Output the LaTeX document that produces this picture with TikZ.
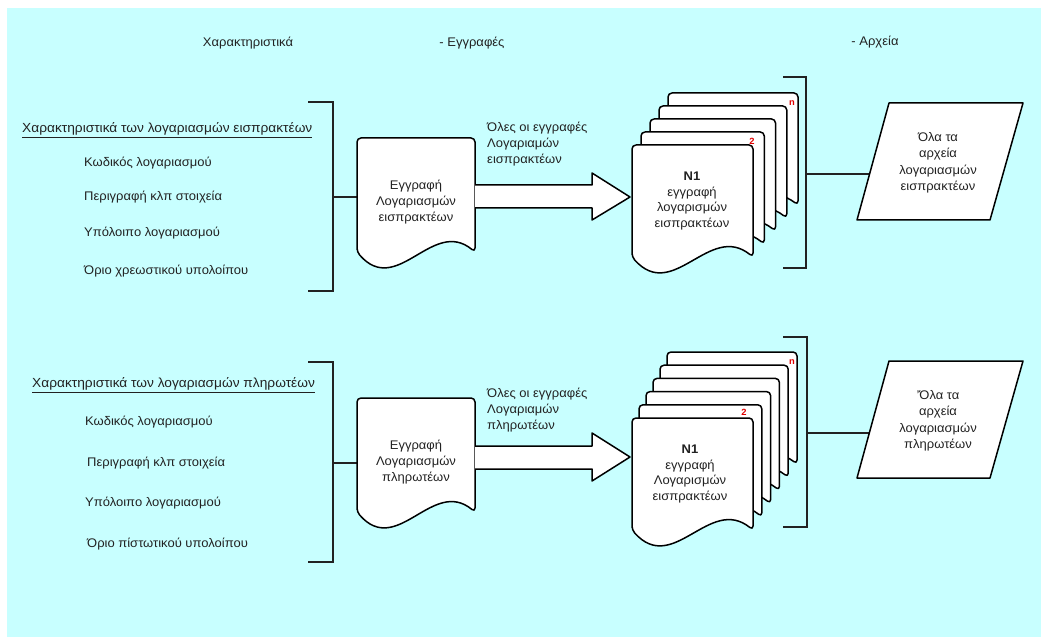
\documentclass[tikz,border=0pt]{standalone}
\usepackage{fontspec}
\setmainfont{Liberation Sans}[FakeStretch=1.04]
\definecolor{bg}{HTML}{C8FFFF}
\definecolor{txt}{HTML}{222222}
\definecolor{redlbl}{HTML}{E00000}
\tikzset{
  shapeline/.style={draw=black, line width=1.5pt, line join=round},
  bracket/.style={draw=txt, line width=1.6pt},
  lbl/.style={text=txt, inner sep=0pt, font=\fontsize{12.5}{15.8}\selectfont},
  item/.style={lbl, anchor=west},
  ctext/.style={lbl, align=center},
  ltext/.style={lbl, align=left, anchor=west},
  redmark/.style={text=redlbl, inner sep=0pt, font=\fontsize{9}{9}\selectfont\bfseries},
  pics/docpage/.style n args={2}{code={
    \draw[shapeline, fill=white, rounded corners=4pt]
      (0,{#2}) -- (0,0) -- ({#1},0) -- ({#1},{#2})
      .. controls ({0.64*(#1)},{(#2)-35}) and ({0.34*(#1)},{(#2)+46}) .. (0,{#2}) -- cycle;
  }}
}
\begin{document}
\begin{tikzpicture}[x=1pt,y=-1pt]
\useasboundingbox (0,0) rectangle (1044,639);
\fill[bg] (7,8) rectangle (1041,637);

% headers
\node[lbl] (h1) at (248,43) {Χαρακτηριστικά};
\node[lbl] (h2) at (472,43) {- Εγγραφές};
\node[lbl] (h3) at (875,42) {- Αρχεία};

% ---------- group 1 ----------
\node[item, font=\fontsize{13.2}{15.8}\selectfont] (t1) at (22,130) {\underline{Χαρακτηριστικά των λογαριασμών εισπρακτέων}};
\node[item] (a1) at (84,163) {Κωδικός λογαριασμού};
\node[item] (a2) at (84,197) {Περιγραφή κλπ στοιχεία};
\node[item] (a3) at (84,233) {Υπόλοιπο λογαριασμού};
\node[item] (a4) at (84,271) {Όριο χρεωστικού υπολοίπου};

\draw[bracket] (308,102) -- (333,102) -- (333,291) -- (308,291);
\coordinate (b1m) at (333,197);
\coordinate (d1w) at (358,197);
\draw[bracket] (b1m) -- (d1w);

\pic at (357,138) {docpage={118}{114}};
\node[ctext] (d1) at (416,202) {Εγγραφή\\Λογαριασμών\\εισπρακτέων};

\draw[shapeline, fill=white] (475,185) -- (592,185) -- (592,173) -- (630,197) -- (592,220) -- (592,208) -- (475,208);
\node[ltext] (l1) at (487,144) {Όλες οι εγγραφές\\Λογαριαμών\\εισπρακτέων};

\foreach \i in {4,3,2,1,0}{
  \pic at ({632+9*\i},{145-13*\i}) {docpage={121+2.25*\i}{112}};
}
\node[ctext] (s1) at (692,201) {\textbf{N1}\\εγγραφή\\λογαρισμών\\εισπρακτέων};
\node[redmark] (n1) at (792,103) {n};
\node[redmark] (two1) at (752,141) {2};

\draw[bracket] (783,77) -- (806,77) -- (806,268) -- (783,268);
\coordinate (b2m) at (806,174);
\coordinate (p1w) at (869,174);
\draw[bracket] (b2m) -- (p1w);

\draw[shapeline, fill=white] (889,103) -- (1023,103) -- (990,220) -- (857,220) -- cycle;
\node[ctext, font=\fontsize{12.5}{16.5}\selectfont] (p1) at (938,163) {Όλα τα\\αρχεία\\λογαριασμών\\εισπρακτέων};

% ---------- group 2 ----------
\node[item, font=\fontsize{13.2}{15.8}\selectfont] (t2) at (32,385) {\underline{Χαρακτηριστικά των λογαριασμών πληρωτέων}};
\node[item] (c1) at (85,422) {Κωδικός λογαριασμού};
\node[item] (c2) at (87,463) {Περιγραφή κλπ στοιχεία};
\node[item] (c3) at (85,503) {Υπόλοιπο λογαριασμού};
\node[item] (c4) at (87,544) {Όριο πίστωτικού υπολοίπου};

\draw[bracket] (308,362) -- (333,362) -- (333,562) -- (308,562);
\coordinate (b3m) at (333,463);
\coordinate (d2w) at (358,463);
\draw[bracket] (b3m) -- (d2w);

\pic at (357,398) {docpage={118}{114}};
\node[ctext] (d2) at (416,462) {Εγγραφή\\Λογαριασμών\\πληρωτέων};

\draw[shapeline, fill=white] (475,446) -- (592,446) -- (592,433) -- (630,457) -- (592,481) -- (592,469) -- (475,469);
\node[ltext] (l2) at (487,410) {Όλες οι εγγραφές\\Λογαριαμών\\πληρωτέων};

\foreach \i in {5,4,3,2,1,0}{
  \pic at ({632+7*\i},{418-13.2*\i}) {docpage={121+1.8*\i}{112}};
}
\node[ctext] (s2) at (690,474) {\textbf{N1}\\εγγραφή\\Λογαρισμών\\εισπρακτέων};
\node[redmark] (n2) at (792,362) {n};
\node[redmark] (two2) at (744,412) {2};

\draw[bracket] (783,337) -- (807,337) -- (807,527) -- (783,527);
\coordinate (b4m) at (807,433);
\coordinate (p2w) at (869,433);
\draw[bracket] (b4m) -- (p2w);

\draw[shapeline, fill=white] (889,361) -- (1023,361) -- (990,478) -- (857,478) -- cycle;
\node[ctext, font=\fontsize{12.5}{16.5}\selectfont] (p2) at (938,421) {'Όλα τα\\αρχεία\\λογαριασμών\\πληρωτέων};
\end{tikzpicture}
\end{document}
